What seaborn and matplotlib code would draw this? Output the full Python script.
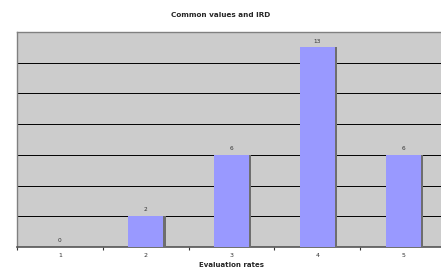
import matplotlib
matplotlib.use("Agg")
import matplotlib.pyplot as plt
import matplotlib.patheffects as pe
import numpy as np
import pandas as pd
import seaborn as sns

# Data
rates = ["1", "2", "3", "4", "5"]
counts = [0, 2, 6, 13, 6]

df = pd.DataFrame({"rate": rates, "count": counts})

sns.set_style("white")
plt.rcParams["font.family"] = ["DejaVu Sans"]

fig = plt.figure(figsize=(4.41, 2.70), dpi=100)
ax = fig.add_axes([17 / 441, 1 - 247 / 270, 429 / 441, 215 / 270])
ax.set_facecolor("#cccccc")

sns.barplot(data=df, x="rate", y="count", color="#9999ff", saturation=1,
            width=0.41, ax=ax, zorder=3, linewidth=0, edgecolor="none")
for bar in ax.patches:
    bar.set_path_effects([
        pe.SimplePatchShadow(offset=(1.6, 0), shadow_rgbFace="#6e6e6e", alpha=1),
        pe.Normal(),
    ])

# value labels above bars
for i, v in enumerate(counts):
    ax.text(i, v + 0.25, str(v), ha="center", va="bottom", fontsize=4.2,
            color="#333333", zorder=4)

ax.set_xlim(-0.5, 4.5)
ax.set_ylim(0, 14)
ax.set_yticks(np.arange(0, 15, 2))
ax.yaxis.grid(True, color="black", linewidth=0.7, zorder=1)
ax.set_axisbelow(True)
ax.tick_params(axis="y", left=False, labelleft=False)

# tick marks between categories, labels at category centers
ax.set_xticks(np.arange(-0.5, 5, 1))
ax.set_xticklabels([])
ax.set_xticks(np.arange(len(rates)), minor=True)
ax.set_xticklabels(rates, minor=True, fontsize=4.5, color="#333333")
ax.tick_params(axis="x", which="major", bottom=True, length=2.5, width=0.8,
               color="#333333", direction="out")
ax.tick_params(axis="x", which="minor", length=0, pad=4)

for side in ["top", "left", "right"]:
    ax.spines[side].set_color("#808080")
    ax.spines[side].set_linewidth(1.0)
ax.spines["bottom"].set_color("#555555")
ax.spines["bottom"].set_linewidth(1.2)

ax.set_xlabel("Evaluation rates", fontsize=5, fontweight="bold", labelpad=3)
ax.set_ylabel("")
fig.suptitle("Common values and IRD", fontsize=5.2, fontweight="bold", y=0.955)

fig.savefig("out.png", dpi=100)
